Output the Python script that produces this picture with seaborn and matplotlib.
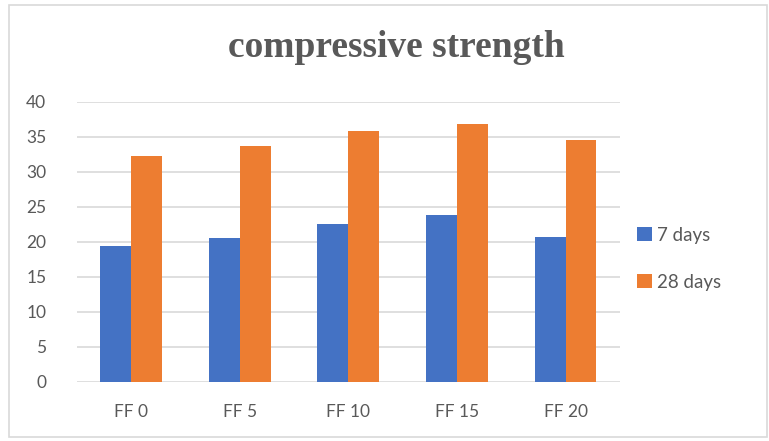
import matplotlib
matplotlib.use("Agg")
import matplotlib.pyplot as plt
import seaborn as sns
import pandas as pd
from matplotlib.patches import Rectangle

# data
categories = ["FF 0", "FF 5", "FF 10", "FF 15", "FF 20"]
days_7 = [19.4, 20.6, 22.6, 23.9, 20.7]
days_28 = [32.2, 33.7, 35.9, 36.8, 34.6]
series_names = ["7 days", "28 days"]

df = pd.DataFrame({
    "mix": categories * 2,
    "strength": days_7 + days_28,
    "age": [series_names[0]] * len(categories) + [series_names[1]] * len(categories),
})

sns.set_style("white")
plt.rcParams["font.family"] = ["Lato", "DejaVu Sans"]

text_gray = "#595959"
fig = plt.figure(figsize=(7.69, 4.41), dpi=100)
ax = fig.add_axes([0.100, 0.134, 0.706, 0.635])

sns.barplot(data=df, x="mix", y="strength", hue="age", hue_order=series_names,
            palette=["#4472C4", "#ED7D31"], saturation=1, width=0.57,
            linewidth=0, ax=ax, zorder=3)

ax.set_ylim(0, 40)
ax.set_yticks(range(0, 41, 5))
ax.set_xlabel("")
ax.set_ylabel("")
ax.yaxis.grid(True, color="#D9D9D9", linewidth=1.2, zorder=0)
ax.set_axisbelow(True)
for s in ax.spines.values():
    s.set_visible(False)
ax.tick_params(axis="both", length=0, labelsize=12.5, colors=text_gray)
ax.tick_params(axis="x", pad=16)
ax.tick_params(axis="y", pad=22)

# title is centred on the whole chart box, not the plot area
fig.text(0.516, 0.892, "compressive strength", family="Liberation Serif",
         fontweight="bold", fontsize=27, color=text_gray, ha="center", va="center")

handles, labels = ax.get_legend_handles_labels()
ax.legend(handles, labels, frameon=False, loc="center left",
          bbox_to_anchor=(0.807, 0.413), bbox_transform=fig.transFigure,
          fontsize=13.5, labelcolor=text_gray, handlelength=0.75, handleheight=0.75,
          handletextpad=0.3, labelspacing=1.6)

# outer chart border
fig.patches.append(Rectangle((0.012, 0.01), 0.985, 0.978, transform=fig.transFigure,
                             fill=False, edgecolor="#D9D9D9", linewidth=1.2))

fig.savefig("out.png", dpi=100)
